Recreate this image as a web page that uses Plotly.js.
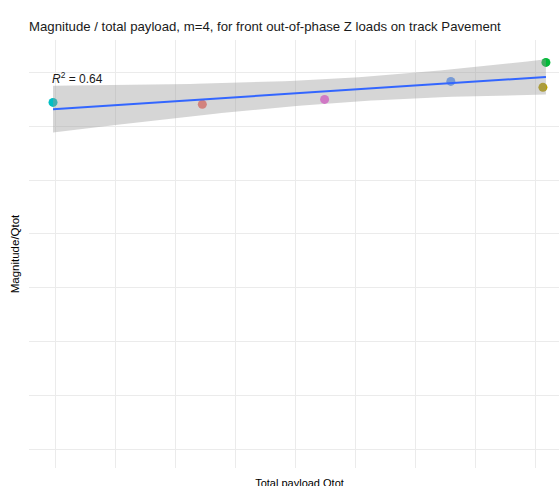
<!DOCTYPE html>
<html>
<head>
<meta charset="utf-8">
<script src="https://cdn.plot.ly/plotly-3.0.1.min.js"></script>
<style>
html, body { margin: 0; padding: 0; overflow: hidden; background: #fff; }
#chart { width: 570px; height: 497px; }
</style>
</head>
<body>
<div id="chart"></div>
<script>
// ---- data ----
const groups = ["G1", "G2", "G3", "G4", "G5", "G6"];
const payload = [9983, 11225, 12242, 13292, 14083, 14058];          // Total payload Qtot
const magnitude = [0.3221, 0.3203, 0.3249, 0.3416, 0.3593, 0.3361]; // Magnitude/Qtot
const groupColors = ["#00BFC4", "#F8766D", "#F564E3", "#619CFF", "#00BA38", "#B79F00"];
const r2Label = "<i>R</i><sup>2</sup> = 0.64";
const titleText = "Magnitude / total payload, m=4, for front out-of-phase Z loads on track Pavement";

// ---- linear model with 95% confidence band (like geom_smooth(method = "lm")) ----
const n = payload.length;
const mx = payload.reduce((a, b) => a + b, 0) / n;
const my = magnitude.reduce((a, b) => a + b, 0) / n;
let sxx = 0, sxy = 0;
for (let i = 0; i < n; i++) {
  sxx += (payload[i] - mx) ** 2;
  sxy += (payload[i] - mx) * (magnitude[i] - my);
}
const slope = sxy / sxx;
const intercept = my - slope * mx;
let sse = 0;
for (let i = 0; i < n; i++) {
  sse += (magnitude[i] - (intercept + slope * payload[i])) ** 2;
}
const s = Math.sqrt(sse / (n - 2));
const tCrit = 2.776445; // qt(0.975, df = 4)
const xmin = Math.min(...payload), xmax = Math.max(...payload);
const fitX = [], fitY = [], upper = [], lower = [];
const steps = 80;
for (let k = 0; k < steps; k++) {
  const x = xmin + (xmax - xmin) * k / (steps - 1);
  const yhat = intercept + slope * x;
  const se = s * Math.sqrt(1 / n + (x - mx) ** 2 / sxx);
  fitX.push(x); fitY.push(yhat);
  upper.push(yhat + tCrit * se);
  lower.push(yhat - tCrit * se);
}
const bandX = fitX.concat(fitX.slice().reverse());
const bandY = upper.concat(lower.slice().reverse());

const traces = [
  {
    type: "scatter", mode: "markers",
    x: payload, y: magnitude, text: groups,
    marker: { color: groupColors, size: 9, line: { width: 0 } },
    showlegend: false, hoverinfo: "x+y+text"
  },
  {
    type: "scatter", mode: "lines",
    x: bandX, y: bandY, fill: "toself",
    fillcolor: "rgba(153,153,153,0.4)", line: { width: 0 },
    showlegend: false, hoverinfo: "skip"
  },
  {
    type: "scatter", mode: "lines",
    x: fitX, y: fitY,
    line: { color: "#3366FF", width: 2 },
    showlegend: false
  }
];

const W = 570, H = 497;
const layout = {
  width: W, height: H,
  margin: { l: 29, r: 0, t: 40, b: H - 468 },
  paper_bgcolor: "#ffffff", plot_bgcolor: "#ffffff",
  font: { family: "Liberation Sans, Arial, sans-serif", color: "#000000" },
  title: {
    text: titleText,
    font: { size: 13.2, color: "#1a1a1a" },
    x: 29 / W, xanchor: "left", xref: "container",
    y: 1 - 26 / H, yanchor: "middle", yref: "container"
  },
  xaxis: {
    range: [9783.3, 14283.3],
    tick0: 10000, dtick: 500,
    showticklabels: false, ticks: "",
    showgrid: true, gridcolor: "#EBEBEB", gridwidth: 1,
    zeroline: false, showline: false,
    title: { text: "Total payload Qtot", font: { size: 11 }, standoff: 11 },
    automargin: false
  },
  yaxis: {
    range: [-0.01764, 0.3801],
    tick0: 0, dtick: 0.05,
    showticklabels: false, ticks: "",
    showgrid: true, gridcolor: "#EBEBEB", gridwidth: 1,
    zeroline: false, showline: false,
    title: { text: "Magnitude/Qtot", font: { size: 11.5 }, standoff: 5 },
    automargin: false
  },
  annotations: [{
    x: xmin, y: 0.3444, xref: "x", yref: "y",
    text: r2Label, showarrow: false,
    xanchor: "left", yanchor: "middle", xshift: -3,
    font: { size: 12, color: "#1a1a1a" }
  }]
};

Plotly.newPlot("chart", traces, layout, { displayModeBar: false, staticPlot: true });
</script>
</body>
</html>
